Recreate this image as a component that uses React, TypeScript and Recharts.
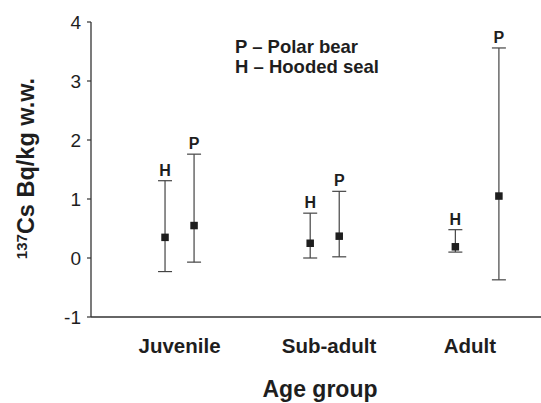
import React from 'react';
import {
  ComposedChart,
  Scatter,
  XAxis,
  YAxis,
  ZAxis,
  ErrorBar,
  Customized,
} from 'recharts';

const categories = ['Juvenile', 'Sub-adult', 'Adult'];
const categoryTickPos = [0, 1.03, 2];

const hoodedMean = [0.35, 0.25, 0.19];
const hoodedHigh = [1.31, 0.76, 0.48];
const hoodedLow = [-0.23, 0.0, 0.1];
const hoodedOffset = [-0.1, -0.1, -0.1];

const polarMean = [0.55, 0.37, 1.05];
const polarHigh = [1.76, 1.13, 3.56];
const polarLow = [-0.07, 0.02, -0.37];
const polarOffset = [0.1, 0.1, 0.2];

const yTicks = [-1, 0, 1, 2, 3, 4];

const FONT = '"Liberation Sans", Arial, Helvetica, sans-serif';
const INK = '#1e1e1e';

const build = (mean: number[], high: number[], low: number[], off: number[], label: string) =>
  mean.map((m, i) => ({
    x: i + off[i],
    y: m,
    err: [m - low[i], high[i] - m],
    top: high[i],
    label,
  }));

const hoodedData = build(hoodedMean, hoodedHigh, hoodedLow, hoodedOffset, 'H');
const polarData = build(polarMean, polarHigh, polarLow, polarOffset, 'P');
const hoodedTop = hoodedData.map((d) => ({ x: d.x, y: d.top, label: d.label }));
const polarTop = polarData.map((d) => ({ x: d.x, y: d.top, label: d.label }));

const SquareShape = (props: any) => {
  const { cx, cy } = props;
  if (cx == null || cy == null) return <g />;
  return <rect x={cx - 3.75} y={cy - 3.75} width={7.5} height={7.5} fill={INK} />;
};

const LetterShape = (props: any) => {
  const { cx, cy, payload } = props;
  if (cx == null || cy == null) return <g />;
  return (
    <text
      x={cx}
      y={cy - 5}
      textAnchor="middle"
      fontFamily={FONT}
      fontWeight="bold"
      fontSize={16}
      fill={INK}
    >
      {payload.label}
    </text>
  );
};

const Overlay = () => (
  <g>
    <text x={235} y={53} fontFamily={FONT} fontWeight="bold" fontSize={18.5} fill={INK}>
      P – Polar bear
    </text>
    <text x={235} y={73} fontFamily={FONT} fontWeight="bold" fontSize={18.5} fill={INK}>
      H – Hooded seal
    </text>
    <text
      x={34}
      y={168.5}
      transform="rotate(-90 34 168.5)"
      textAnchor="middle"
      fontFamily={FONT}
      fontWeight="bold"
      fontSize={23.5}
      fill={INK}
    >
      <tspan fontSize={15} dy={-7}>137</tspan>
      <tspan dy={7}>Cs Bq/kg w.w.</tspan>
    </text>
  </g>
);

export default function App() {
  return (
    <div style={{ position: 'absolute', left: 0, top: 0, width: 541, height: 403, background: '#fff' }}>
      <ComposedChart
        width={541}
        height={403}
        margin={{ top: 22, right: 0, bottom: 0, left: 0 }}
      >
        <XAxis
          type="number"
          dataKey="x"
          domain={[-0.61, 2.49]}
          ticks={categoryTickPos}
          tickFormatter={(v: number) => categories[categoryTickPos.indexOf(v)] ?? ''}
          allowDataOverflow
          height={86}
          tickLine={false}
          tickSize={0}
          tickMargin={21}
          axisLine={{ stroke: '#333', strokeWidth: 1.3 }}
          tick={{ fontSize: 20.5, fontWeight: 'bold', fill: INK, fontFamily: FONT }}
          interval={0}
          label={{
            value: 'Age group',
            position: 'insideBottom',
            offset: 6,
            dx: 4,
            fontSize: 23,
            fontWeight: 'bold',
            fill: INK,
            fontFamily: FONT,
          }}
        />
        <YAxis
          type="number"
          dataKey="y"
          domain={[-1, 4]}
          ticks={yTicks}
          width={91}
          allowDataOverflow
          tickSize={4}
          tickMargin={6}
          axisLine={{ stroke: '#333', strokeWidth: 1.3 }}
          tickLine={{ stroke: '#333', strokeWidth: 1.2 }}
          tick={{ fontSize: 19, fill: INK, fontFamily: FONT }}
        />
        <ZAxis range={[49, 49]} />
        <Scatter data={hoodedData} shape={<SquareShape />} isAnimationActive={false}>
          <ErrorBar dataKey="err" direction="y" width={7} stroke="#444" strokeWidth={1.2} />
        </Scatter>
        <Scatter data={polarData} shape={<SquareShape />} isAnimationActive={false}>
          <ErrorBar dataKey="err" direction="y" width={7} stroke="#444" strokeWidth={1.2} />
        </Scatter>
        <Scatter data={hoodedTop} shape={<LetterShape />} isAnimationActive={false} />
        <Scatter data={polarTop} shape={<LetterShape />} isAnimationActive={false} />
        <Customized component={Overlay} />
      </ComposedChart>
    </div>
  );
}
